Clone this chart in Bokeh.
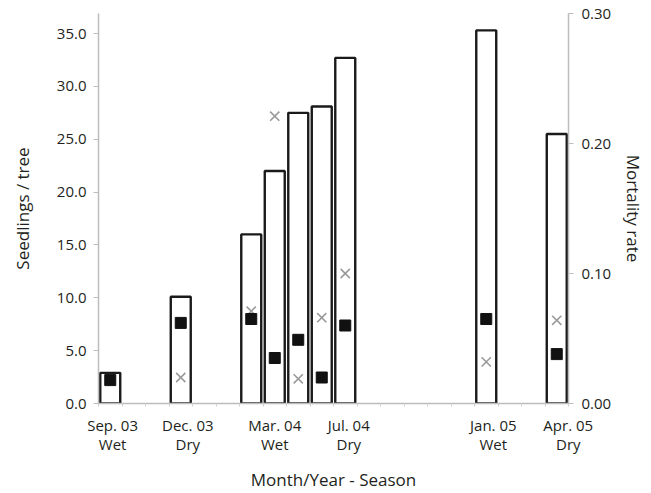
import math
from bokeh.plotting import figure
from bokeh.models import (Range1d, LinearAxis, FixedTicker, ColumnDataSource,
                          NumeralTickFormatter)
from bokeh.embed import file_html
from bokeh.resources import INLINE

# ---- data ----
sample_labels = ["Sep. 03", "Dec. 03", "Mar. 04", "Apr. 04", "May 04",
                 "Jun. 04", "Jul. 04", "Jan. 05", "Apr. 05"]
month_index = [0, 3, 6, 7, 8, 9, 10, 16, 19]          # months since Sep. 03
seedlings_per_tree = [2.9, 10.1, 16.0, 22.0, 27.5, 28.1, 32.7, 35.3, 25.5]
mortality_squares = [0.018, 0.062, 0.065, 0.035, 0.049, 0.020, 0.060, 0.065, 0.038]
mortality_crosses = [float("nan"), 0.020, 0.071, 0.221, 0.019, 0.066, 0.100, 0.032, 0.064]

tick_labels = ["Sep. 03\nWet", "Dec. 03\nDry", "Mar. 04\nWet",
               "Jul. 04\nDry", "Jan. 05\nWet", "Apr. 05\nDry"]
tick_positions = [0.1, 3.3, 7.0, 10.15, 16.3, 19.49]

left_ticks = [0, 5, 10, 15, 20, 25, 30, 35]
right_ticks = [0.0, 0.1, 0.2, 0.3]

FONT = "Open Sans"
TXT = "#231f20"
AXC = "#bdbdbd"

src = ColumnDataSource(dict(x=month_index, seed=seedlings_per_tree,
                            sq=mortality_squares, cr=mortality_crosses))

p = figure(width=651, height=493, output_backend="svg", toolbar_location=None,
           x_range=Range1d(-0.5, 19.5), y_range=Range1d(0, 36.9),
           min_border_left=98, min_border_right=83, min_border_top=13,
           min_border_bottom=90)
p.outline_line_color = None
p.xgrid.visible = False
p.ygrid.visible = False
p.extra_y_ranges = {"mort": Range1d(0, 0.30)}

p.vbar(x="x", top="seed", width=0.85, source=src, fill_color="white",
       line_color="#1a1a1a", line_width=2.4)
p.scatter(x="x", y="cr", source=src, y_range_name="mort", marker="x",
          size=13, line_color="#9a9a9a", line_width=1.6)
p.scatter(x="x", y="sq", source=src, y_range_name="mort", marker="square",
          size=11, fill_color="#111111", line_color="#111111")

# x axis
xa = p.xaxis[0]
xa.ticker = FixedTicker(ticks=tick_positions,
                        minor_ticks=[i - 0.5 for i in range(0, 21)])
xa.major_label_overrides = {t: l for t, l in zip(tick_positions, tick_labels)}
xa.major_tick_out = 0
xa.major_tick_in = 0
xa.minor_tick_line_color = "#d0d0d0"
xa.minor_tick_out = 3
xa.minor_tick_in = 0
xa.major_label_standoff = 8
xa.major_label_text_line_height = 0.95
xa.axis_label = "Month/Year - Season"
xa.axis_label_standoff = 11

# left axis
ya = p.yaxis[0]
ya.ticker = FixedTicker(ticks=left_ticks)
ya.formatter = NumeralTickFormatter(format="0.0")
ya.axis_label = "Seedlings / tree"
ya.axis_label_standoff = 20
ya.major_label_standoff = 7
ya.major_tick_out = 5
ya.major_tick_in = 0
ya.minor_tick_line_color = None

ra = LinearAxis(y_range_name="mort", ticker=FixedTicker(ticks=right_ticks),
                formatter=NumeralTickFormatter(format="0.00"),
                axis_label="Mortality rate")
ra.axis_label_standoff = 8
ra.major_label_standoff = 8
ra.major_tick_out = 5
ra.major_tick_in = 0
ra.minor_tick_line_color = None
p.add_layout(ra, "right")

for ax in (xa, ya, ra):
    ax.axis_line_color = AXC
    ax.axis_line_width = 1.5
    ax.major_label_text_font = FONT
    ax.major_label_text_font_size = "15px"
    ax.major_label_text_color = TXT
    ax.axis_label_text_font = FONT
    ax.axis_label_text_font_size = "17px"
    ax.axis_label_text_font_style = "normal"
    ax.axis_label_text_color = TXT
ya.major_tick_line_color = AXC
ra.major_tick_line_color = AXC
xa.major_tick_line_color = None

open("out.html", "w").write(file_html(p, INLINE))
